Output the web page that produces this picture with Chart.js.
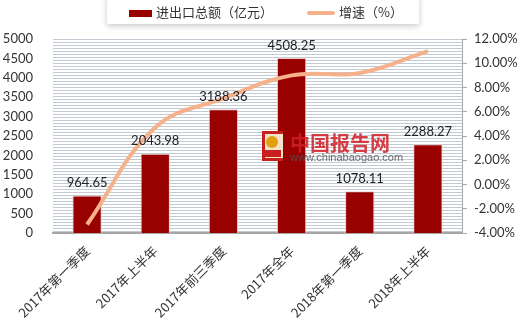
<!DOCTYPE html>
<html>
<head>
<meta charset="utf-8">
<script src="https://cdn.jsdelivr.net/npm/chart.js@4"></script>
<style>
  html, body { margin: 0; padding: 0; background: #fff; }
  #wrap { position: relative; width: 520px; height: 329px; }
  #legendBox {
    position: absolute; left: 107px; top: -4px; width: 312px; height: 28px;
    background: #fff; box-shadow: 0 2px 6px rgba(0,0,0,0.22);
    font: 13px "Noto Sans CJK SC", sans-serif; color: #333;
  }
  .item { position: absolute; top: 8px; line-height: 16px; white-space: nowrap; }
  .swatch { display: inline-block; vertical-align: middle; margin-right: 4px; }
</style>
</head>
<body>
<div id="wrap">
  <canvas id="chart" width="520" height="329"></canvas>
  <div id="legendBox">
    <div class="item" style="left:22px"><span class="swatch" style="width:23px;height:7px;background:#990000"></span>进出口总额（亿元）</div>
    <div class="item" style="left:200px"><span class="swatch" style="width:28px;height:4px;background:#f6b08a;border-radius:2px"></span>增速（%）</div>
  </div>
</div>
<script>
const periods = ["2017年第一季度", "2017年上半年", "2017年前三季度", "2017年全年", "2018年第一季度", "2018年上半年"];
const totalTrade = [964.65, 2043.98, 3188.36, 4508.25, 1078.11, 2288.27];
const growthRate = [-3.3, 4.7, 7.1, 9.0, 9.2, 11.0];

const labelFont = { family: "Lato, 'Noto Sans CJK SC', sans-serif", size: 13 };

// striped plot background
function stripePattern(ctx) {
  const c = document.createElement("canvas");
  c.width = 4; c.height = 3;
  const p = c.getContext("2d");
  p.fillStyle = "#ffffff"; p.fillRect(0, 0, 4, 3);
  p.fillStyle = "#c2cad4"; p.fillRect(0, 0, 4, 1);
  return ctx.createPattern(c, "repeat");
}

const plotBackground = {
  id: "plotBackground",
  beforeDraw(chart) {
    const { ctx, chartArea: a } = chart;
    ctx.save();
    ctx.fillStyle = stripePattern(ctx);
    ctx.fillRect(a.left, a.top, a.right - a.left, a.bottom - a.top);
    ctx.restore();
  }
};

// values printed above the bars
const barValues = {
  id: "barValues",
  afterDatasetsDraw(chart) {
    const { ctx } = chart;
    const meta = chart.getDatasetMeta(1);
    ctx.save();
    ctx.font = "13px Lato, sans-serif";
    ctx.fillStyle = "#222";
    ctx.textAlign = "center";
    ctx.textBaseline = "bottom";
    meta.data.forEach((bar, i) => {
      ctx.fillText(totalTrade[i].toFixed(2), bar.x, bar.y - 6);
    });
    ctx.restore();
  }
};

const watermark = {
  id: "watermark",
  afterDraw(chart) {
    const { ctx } = chart;
    ctx.save();
    // logo block
    ctx.fillStyle = "#f3e3c8";
    ctx.fillRect(262, 131, 21, 30);
    ctx.fillStyle = "#c8201e";
    ctx.fillRect(262, 131, 21, 3);
    ctx.fillRect(262, 158, 21, 3);
    ctx.fillRect(262, 131, 3, 30);
    ctx.fillStyle = "#e0a010";
    ctx.beginPath(); ctx.arc(272, 142, 6, 0, Math.PI * 2); ctx.fill();
    ctx.fillStyle = "#c8201e";
    ctx.fillRect(265, 150, 16, 7);
    ctx.globalAlpha = 0.85;
    ctx.fillStyle = "#d21f26";
    ctx.font = "bold 20px 'Noto Sans CJK SC', sans-serif";
    ctx.textBaseline = "middle";
    ctx.fillText("中国报告网", 290, 143);
    ctx.fillStyle = "#555";
    ctx.font = "11px 'Liberation Sans', sans-serif";
    ctx.fillText("www.chinabaogao.com", 290, 158);
    ctx.restore();
  }
};

new Chart(document.getElementById("chart"), {
  data: {
    labels: periods,
    datasets: [
      {
        type: "line",
        label: "增速（%）",
        data: growthRate,
        yAxisID: "y1",
        borderColor: "#f6b08a",
        borderWidth: 4,
        tension: 0.4,
        pointRadius: 0,
        order: 1
      },
      {
        type: "bar",
        label: "进出口总额（亿元）",
        data: totalTrade,
        yAxisID: "y",
        backgroundColor: "#990000",
        borderColor: "rgba(235,200,200,0.9)",
        borderWidth: 1,
        categoryPercentage: 1,
        barPercentage: 0.43,
        order: 2
      }
    ]
  },
  options: {
    responsive: false,
    animation: false,
    layout: { padding: { top: 39 } },
    plugins: { legend: { display: false }, tooltip: { enabled: false } },
    scales: {
      x: {
        grid: { display: false },
        border: { color: "#a6a6a6", width: 2 },
        ticks: { color: "#333", font: { family: "'Noto Sans CJK SC', sans-serif", size: 13 }, maxRotation: 45, minRotation: 45, padding: 2 },
        afterFit(s) { s.height = 96; }
      },
      y: {
        position: "left",
        min: 0, max: 5000,
        grid: { display: false },
        border: { display: false },
        ticks: { stepSize: 500, color: "#333", font: labelFont, padding: 12, callback: v => String(v) },
        afterFit(s) { s.width = 53; }
      },
      y1: {
        position: "right",
        min: -4, max: 12,
        grid: { drawOnChartArea: false, color: "#a6a6a6", tickLength: 5 },
        border: { color: "#a6a6a6", width: 1 },
        ticks: { stepSize: 2, color: "#333", font: labelFont, padding: 7, callback: v => v.toFixed(2) + "%" },
        afterFit(s) { s.width = 58; }
      }
    }
  },
  plugins: [plotBackground, barValues, watermark]
});
</script>
</body>
</html>
